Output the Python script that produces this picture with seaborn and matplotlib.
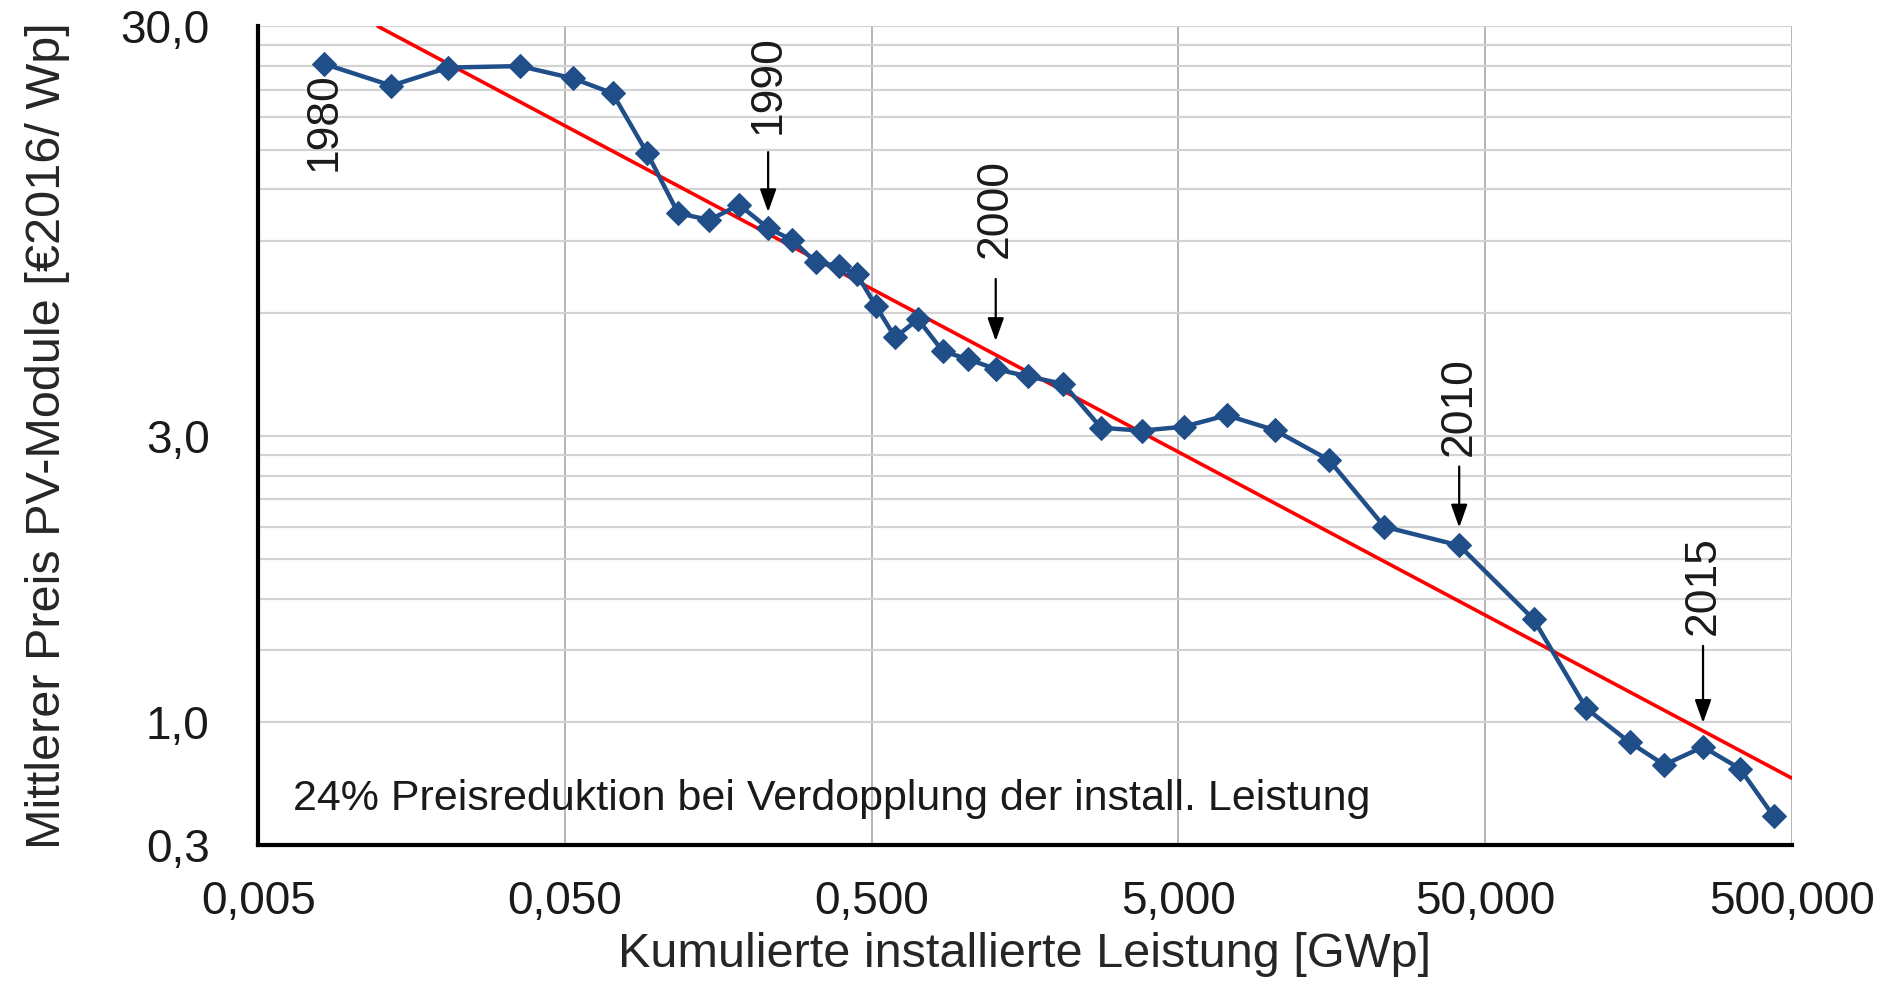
import numpy as np
import pandas as pd
import seaborn as sns
import matplotlib.pyplot as plt

# Kumulierte Leistung [GWp] und mittlerer Modulpreis [EUR2016/Wp], 1980-2017
years = list(range(1980, 2018))
cum_gwp = [0.0082, 0.0136, 0.0208, 0.0357, 0.0531, 0.0715, 0.0928, 0.117, 0.148, 0.185,
           0.230, 0.276, 0.329, 0.391, 0.448, 0.517, 0.597, 0.709, 0.853, 1.03,
           1.27, 1.62, 2.11, 2.80, 3.81, 5.22, 7.19, 10.3, 15.5, 23.5,
           41.2, 72.0, 107, 148, 192, 257, 339, 437]
price = [24.3, 21.5, 23.8, 24.0, 22.4, 20.6, 14.7, 10.5, 10.1, 11.0,
         9.65, 9.02, 7.96, 7.80, 7.44, 6.22, 5.22, 5.78, 4.83, 4.62,
         4.37, 4.19, 4.02, 3.14, 3.09, 3.16, 3.37, 3.10, 2.62, 1.80,
         1.62, 1.07, 0.648, 0.536, 0.472, 0.522, 0.462, 0.353]

# Trendlinie (24% Preisreduktion je Verdopplung)
trend_x = [0.0123, 500]
trend_y = [30.0, 0.438]

x_ticks = [0.005, 0.05, 0.5, 5, 50, 500]
x_ticklabels = ['0,005', '0,050', '0,500', '5,000', '50,000', '500,000']
y_ticks = [0.3, 3, 30]
y_ticklabels = ['0,3', '3,0', '30,0']

label_years = [1980, 1990, 2000, 2010, 2015]

df = pd.DataFrame({'year': years, 'gwp': cum_gwp, 'price': price})
df_trend = pd.DataFrame({'gwp': trend_x, 'price': trend_y})

sns.set_style('white')
plt.rcParams['font.family'] = ['Liberation Sans', 'DejaVu Sans']
plt.rcParams['text.color'] = '#1a1a1a'

fig = plt.figure(figsize=(18.83, 9.89), dpi=100)
ax = fig.add_axes([0.1371, 0.1452, 0.8144, 0.8281])

sns.lineplot(data=df_trend, x='gwp', y='price', color='#ff0000', linewidth=2.6, ax=ax, zorder=3)
sns.lineplot(data=df, x='gwp', y='price', color='#1f4e89', linewidth=3.2, marker='D',
             markersize=12.5, markeredgecolor='#1f4e89', ax=ax, zorder=4)

ax.set_xscale('log')
ax.set_yscale('log')
ax.set_xlim(0.005, 500)
ax.set_ylim(0.3, 30)

# minor ticks at multiples of the first major value
x_minor = [k * t for t in x_ticks[:-1] for k in range(2, 10)]
y_minor = [k * t for t in y_ticks[:-1] for k in range(2, 10)]
ax.set_xticks(x_ticks, labels=x_ticklabels)
ax.set_xticks(x_minor, labels=[''] * len(x_minor), minor=True)
ax.set_yticks(y_ticks, labels=y_ticklabels)
ax.set_yticks(y_minor, labels=['1,0' if abs(v - 0.6) < 1e-9 else '' for v in y_minor], minor=True)

ax.tick_params(axis='both', which='both', direction='out', colors='black', width=2,
               labelsize=33, labelcolor='#1a1a1a')
ax.tick_params(axis='x', which='major', length=10, pad=15)
ax.tick_params(axis='x', which='minor', length=8)
ax.tick_params(axis='y', which='major', length=11, pad=24)
ax.tick_params(axis='y', which='minor', length=8, pad=27)

ax.set_axisbelow(True)
ax.grid(axis='y', which='both', color='#d3d3d3', linewidth=1.6)
ax.grid(axis='x', which='major', color='#a8a8a8', linewidth=1.2)

for s in ['top', 'right']:
    ax.spines[s].set_visible(False)
for s in ['left', 'bottom']:
    ax.spines[s].set_color('black')
    ax.spines[s].set_linewidth(3)

ax.set_xlabel('Kumulierte installierte Leistung [GWp]', fontsize=35, labelpad=6)
ax.set_ylabel('Mittlerer Preis PV-Module [€2016/ Wp]', fontsize=35, labelpad=36)

# Jahresmarken: (text offset, arrow start, arrow tip) in pixels above the point
marks = {1980: (-8, None, None), 1990: (94, 76, 16), 2000: (111, 90, 28),
         2010: (89, 79, 18), 2015: (112, 101, 24)}
for yr in label_years:
    row = df[df['year'] == yr].iloc[0]
    txt_off, a_start, a_tip = marks[yr]
    ax.annotate(str(yr), xy=(row['gwp'], row['price']), xytext=(0, txt_off),
                textcoords='offset pixels', rotation=90, ha='center',
                va='bottom' if txt_off > 0 else 'top', fontsize=32)
    if a_start is not None:
        ax.annotate('', xy=(row['gwp'], row['price']), xytext=(0, a_start),
                    textcoords='offset pixels',
                    arrowprops=dict(arrowstyle='-|>,head_length=0.7,head_width=0.25',
                                    mutation_scale=20, color='black', lw=1.6,
                                    shrinkA=0, shrinkB=a_tip * 0.72))

ax.text(0.0227, 0.043, '24% Preisreduktion bei Verdopplung der install. Leistung',
        transform=ax.transAxes, fontsize=31, va='baseline', ha='left')

plt.savefig('out.png', dpi=100)
